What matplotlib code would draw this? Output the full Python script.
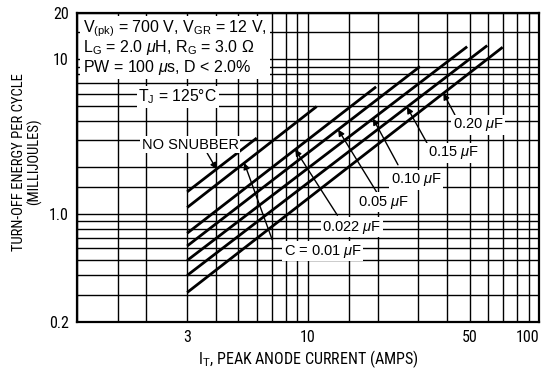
import numpy as np
import matplotlib
matplotlib.use('Agg')
import matplotlib.pyplot as plt
from matplotlib import font_manager
from matplotlib.patches import Rectangle

plt.rcParams['font.family'] = ['Liberation Sans', 'DejaVu Sans']
plt.rcParams['mathtext.fontset'] = 'custom'
plt.rcParams['mathtext.rm'] = 'Liberation Sans'
plt.rcParams['mathtext.it'] = 'Liberation Sans:italic'

# condensed face for ticks / axis labels if one is installed
narrow = None
narrow_stretch = 'normal'
names = {f.name for f in font_manager.fontManager.ttflist}
for cand in ['Liberation Sans Narrow', 'Roboto Condensed', 'Open Sans Condensed',
             'Noto Sans Condensed', 'DejaVu Sans Condensed', 'Arial Narrow']:
    if cand in names:
        narrow = cand
        break
if narrow is None:
    for f in font_manager.fontManager.ttflist:
        if f.stretch in ('condensed', 'semi-condensed') and f.style == 'normal':
            narrow = f.name
            narrow_stretch = f.stretch
            break
if narrow is None:
    narrow = 'Liberation Sans'
    tick_size, ylab_size, xlab_size = 10.0, 8.8, 9.8
else:
    tick_size, ylab_size, xlab_size = 11.5, 10.5, 11.5

# curves: all start at 3 A, straight on log-log paper
labels = ['NO SNUBBER', 'C = 0.01 $\\mu$F', '0.022 $\\mu$F', '0.05 $\\mu$F',
          '0.10 $\\mu$F', '0.15 $\\mu$F', '0.20 $\\mu$F']
i_start = [3, 3, 3, 3, 3, 3, 3]
e_start = [1.39, 1.10, 0.75, 0.62, 0.50, 0.40, 0.31]
i_end = [6.0, 10.9, 19.7, 30.5, 48.8, 59.6, 69.5]
e_end = [3.1, 4.96, 6.65, 9.0, 12.1, 12.3, 12.0]

# where each label sits, where its arrow starts and which current it points at
lab_x = [3.09, 11.6, 15.5, 21.2, 29.4, 42.4, 54.4]
lab_y = [2.8, 0.575, 0.822, 1.19, 1.66, 2.48, 3.77]
tail_x = [3.66, 7.0, 13.4, 19.9, 24.5, 32.7, 43.2]
tail_y = [2.48, 0.68, 0.98, 1.37, 2.08, 2.88, 4.38]
tip_i = [4.02, 5.3, 8.8, 13.5, 19.1, 26.8, 38.5]

x_grid = [1, 1.5, 2, 3, 4, 5, 6, 7, 8, 9, 10, 15, 20, 30, 40, 50, 60, 70, 80, 90, 100]
y_grid = [0.2, 0.3, 0.4, 0.5, 0.6, 0.7, 0.8, 0.9, 1, 1.5, 2, 3, 4, 5, 6, 7, 8, 9, 10, 15, 20]

cond_lines = ['V$_{\\rm(pk)}$ = 700 V, V$_{\\rm GR}$ = 12 V,',
              'L$_{\\rm G}$ = 2.0 $\\mu$H, R$_{\\rm G}$ = 3.0 $\\Omega$',
              'PW = 100 $\\mu$s, D < 2.0%']
cond_y = [14.9, 11.1, 8.3]

fig = plt.figure(figsize=(5.53, 3.70), dpi=100)
ax = fig.add_axes([0.139, 0.130, 0.836, 0.835])
ax.set_xscale('log')
ax.set_yscale('log')
ax.set_xlim(1, 100)
ax.set_ylim(0.2, 20)

for g in x_grid:
    ax.axvline(g, color='black', lw=1.0, zorder=1)
for g in y_grid:
    ax.axhline(g, color='black', lw=1.0, zorder=1)

for k in range(len(labels)):
    ax.plot([i_start[k], i_end[k]], [e_start[k], e_end[k]], color='black', lw=2.0,
            solid_capstyle='butt', zorder=3)

for k in range(len(labels)):
    slope = np.log(e_end[k] / e_start[k]) / np.log(i_end[k] / i_start[k])
    tip_e = e_start[k] * (tip_i[k] / i_start[k]) ** slope
    ax.annotate('', xy=(tip_i[k], tip_e), xytext=(tail_x[k], tail_y[k]),
                arrowprops=dict(arrowstyle='-|>', color='black', lw=1.0,
                                mutation_scale=9, shrinkA=0, shrinkB=0), zorder=4)
    ax.text(lab_x[k], lab_y[k], labels[k], fontsize=10.5, ha='center', va='center',
            bbox=dict(facecolor='white', edgecolor='none', pad=1.0), zorder=5)

# white panel holding the test conditions
ax.add_patch(Rectangle((1.03, 7.5), 6.85 - 1.03, 19.2 - 7.5, facecolor='white',
                       edgecolor='none', zorder=4.5))
for txt, yy in zip(cond_lines, cond_y):
    ax.text(1.06, yy, txt, fontsize=11.5, ha='left', va='baseline', zorder=5)

ax.text(2.73, 5.73, 'T$_{\\rm J}$ = 125\u00b0C', fontsize=11.3, ha='center', va='center',
        bbox=dict(facecolor='white', edgecolor='none', pad=1.0), zorder=5)

ax.set_xticks([3, 10, 50, 100])
ax.set_xticklabels(['3', '10', '50', '100'])
ax.set_yticks([0.2, 1.0, 10, 20])
ax.set_yticklabels(['0.2', '1.0', '10', '20'])
ax.minorticks_off()
ax.tick_params(length=0, pad=6)
for t in ax.get_xticklabels() + ax.get_yticklabels():
    t.set_family([narrow, 'DejaVu Sans'])
    t.set_stretch(narrow_stretch)
    t.set_fontsize(tick_size)
ax.get_xticklabels()[-1].set_ha('right')

for s in ax.spines.values():
    s.set_linewidth(1.6)
    s.set_zorder(6)

ax.set_xlabel('I$_{\\rm T}$, PEAK ANODE CURRENT (AMPS)', fontsize=xlab_size, labelpad=2,
              family=[narrow, 'DejaVu Sans'], stretch=narrow_stretch)
fig.text(0.034, 0.563, 'TURN-OFF ENERGY PER CYCLE', rotation=90, ha='center',
         va='center', family=[narrow, 'DejaVu Sans'], stretch=narrow_stretch,
         fontsize=ylab_size)
fig.text(0.063, 0.563, '(MILLIJOULES)', rotation=90, ha='center', va='center',
         family=[narrow, 'DejaVu Sans'], stretch=narrow_stretch, fontsize=ylab_size)

fig.savefig('out.png', dpi=100, facecolor='white')
